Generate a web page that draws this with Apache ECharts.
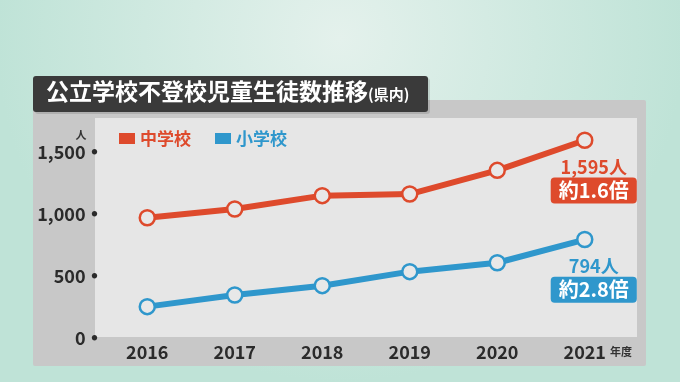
<!DOCTYPE html>
<html><head><meta charset="utf-8">
<script src="https://cdn.jsdelivr.net/npm/echarts@6/dist/echarts.min.js"></script>
<style>html,body{margin:0;padding:0;}#c{width:680px;height:382px;}</style>
</head><body><div id="c"></div>
<script>
const years = ['2016','2017','2018','2019','2020','2021'];
const juniorHigh = [970, 1040, 1148, 1161, 1352, 1595];
const elementary = [253, 347, 422, 535, 607, 794];
const seriesNames = ['中学校', '小学校'];
const endValueLabels = ['1,595人', '794人'];
const ratioLabels = ['約1.6倍', '約2.8倍'];
const yTicks = [0, 500, 1000, 1500];

const RED = '#de4a2c', BLUE = '#2f97cc';
const FONT = '"Noto Sans CJK JP", "Noto Sans", sans-serif';

function lastLabel(idx, color) {
  return {
    show: true, position: 'bottom', distance: 5, offset: [9, 0],
    formatter: '{v|' + endValueLabels[idx] + '}\n{b|' + ratioLabels[idx] + '}',
    rich: {
      v: {color: color, fontSize: 18, fontWeight: 'bold', fontFamily: FONT, lineHeight: 26, align: 'center'},
      b: {color: '#fff', backgroundColor: color, borderRadius: 4, padding: [3, 8, 3, 8], fontSize: 20, fontWeight: 'bold', fontFamily: FONT, lineHeight: 21, align: 'center'}
    }
  };
}
function mkData(arr, idx, color) {
  return arr.map((v, i) => i === arr.length - 1 ? {value: v, label: lastLabel(idx, color)} : v);
}

const chart = echarts.init(document.getElementById('c'), null, {renderer: 'canvas'});
chart.setOption({
  animation: false,
  backgroundColor: {
    type: 'radial', x: 0.5, y: 0.1, r: 0.9,
    colorStops: [{offset: 0, color: '#e4f1ec'}, {offset: 1, color: '#bfe3d7'}]
  },
  textStyle: {fontFamily: FONT},
  graphic: [
    {type: 'rect', z: -10, shape: {x: 33, y: 100, width: 613, height: 266, r: 2}, style: {fill: '#c8c8c8'}},
    {type: 'rect', z: -9, shape: {x: 95, y: 118, width: 542, height: 219}, style: {fill: '#e6e6e6'}},
    {type: 'rect', z: -8, shape: {x: 35, y: 78, width: 395, height: 36, r: 3}, style: {fill: 'rgba(0,0,0,0.12)'}},
    {type: 'rect', z: -7, shape: {x: 33, y: 76, width: 395, height: 36, r: 3}, style: {fill: '#3a3a3a'}},
    {type: 'text', z: 10, left: 46, top: 80, style: {
      text: '{m|公立学校不登校児童生徒数推移}{s|(県内)}',
      rich: {
        m: {fill: '#ffffff', fontSize: 23, fontWeight: 'bold', fontFamily: FONT},
        s: {fill: '#ffffff', fontSize: 15, fontWeight: 'bold', fontFamily: FONT, padding: [5, 0, 0, 0]}
      }
    }},
    {type: 'text', z: 10, left: 610, top: 346, style: {text: '年度', fill: '#333', fontSize: 11, fontWeight: 'bold', fontFamily: FONT}}
  ],
  legend: {
    left: 114, top: 125, itemGap: 24, itemWidth: 16, itemHeight: 11, icon: 'rect',
    textStyle: {fontSize: 17, fontWeight: 'bold', fontFamily: FONT, padding: [0, 0, 0, 0]},
    data: [
      {name: seriesNames[0], itemStyle: {color: RED, borderWidth: 0}, textStyle: {color: RED}},
      {name: seriesNames[1], itemStyle: {color: BLUE, borderWidth: 0}, textStyle: {color: BLUE}}
    ]
  },
  grid: {left: 103.5, right: 51.5, top: 152, bottom: 44, containLabel: false},
  xAxis: {
    type: 'category', data: years, boundaryGap: true,
    axisLine: {show: false}, axisTick: {show: false},
    axisLabel: {color: '#2b2b2b', fontSize: 18, fontWeight: 'bold', fontFamily: FONT, margin: 5}
  },
  yAxis: {
    type: 'value', min: 0, max: 1500, interval: 500,
    name: '人', nameLocation: 'end', nameGap: 12,
    nameTextStyle: {color: '#333', fontSize: 11, fontWeight: 'bold', align: 'right', padding: [0, 17, 0, 0], fontFamily: FONT},
    axisLine: {show: false}, axisTick: {show: false}, splitLine: {show: false},
    axisLabel: {
      margin: 6,
      formatter: v => '{a|' + (yTicks.indexOf(v) >= 0 ? v.toLocaleString('en-US') : '') + '}{d|●}',
      rich: {
        a: {color: '#2b2b2b', fontSize: 18, fontWeight: 'bold', fontFamily: FONT, padding: [0, 6, 0, 0]},
        d: {color: '#2b2b2b', fontSize: 6}
      }
    }
  },
  series: [
    {
      name: seriesNames[0], type: 'line', clip: false, data: mkData(juniorHigh, 0, RED),
      symbol: 'circle', symbolSize: 15,
      lineStyle: {color: RED, width: 6},
      itemStyle: {color: '#e8e8e8', borderColor: RED, borderWidth: 2.5},
      z: 3
    },
    {
      name: seriesNames[1], type: 'line', clip: false, data: mkData(elementary, 1, BLUE),
      symbol: 'circle', symbolSize: 15,
      lineStyle: {color: BLUE, width: 6},
      itemStyle: {color: '#e8e8e8', borderColor: BLUE, borderWidth: 2.5},
      z: 3
    }
  ]
});
</script>
</body></html>
